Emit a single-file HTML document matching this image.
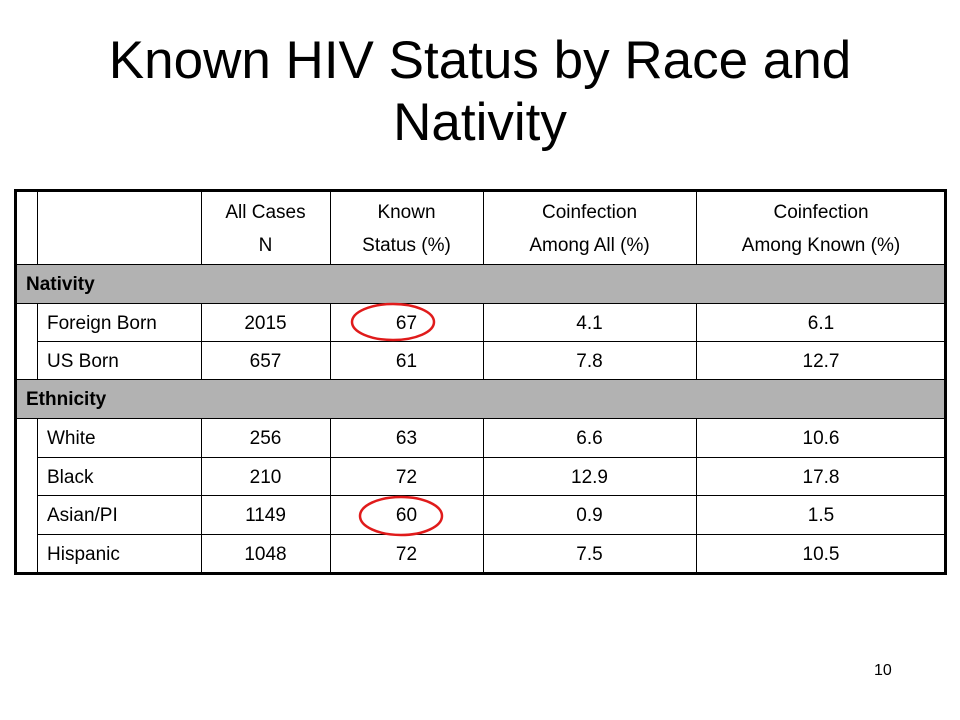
<!DOCTYPE html>
<html><head><meta charset="utf-8"><style>
body{margin:0;width:960px;height:720px;background:#fff;position:relative;overflow:hidden;font-family:"Liberation Sans",sans-serif;color:#000}
.t{position:absolute;left:0;width:960px;text-align:center;font-size:53px;line-height:62px}
.c{position:absolute;display:flex;align-items:center;justify-content:center;font-size:19px;box-sizing:border-box;padding-top:3px}
.c.lab{justify-content:flex-start;padding-left:10px}
.l{position:absolute;background:#000}
.g{position:absolute;left:15px;width:931px;height:38px;background:#b2b2b2;font-weight:bold;font-size:19px;line-height:40px;padding-left:11px;box-sizing:border-box}
.h{position:absolute;text-align:center;font-size:19px;line-height:33px}
</style></head><body>
<div class="t" style="top:30px">Known HIV Status by Race and<br>Nativity</div>

<div>
<div class="g" style="top:265px">Nativity</div>
<div class="g" style="top:380px">Ethnicity</div>

<div class="h" style="left:201px;width:129px;top:196px">All Cases<br>N</div>
<div class="h" style="left:330px;width:153px;top:196px">Known<br>Status (%)</div>
<div class="h" style="left:483px;width:213px;top:196px">Coinfection<br>Among All (%)</div>
<div class="h" style="left:696px;width:250px;top:196px">Coinfection<br>Among Known (%)</div>

<div id="rows"></div>

<div class="l" style="left:14px;top:189px;width:933px;height:3px"></div>
<div class="l" style="left:15px;top:264px;width:931px;height:1px"></div>
<div class="l" style="left:15px;top:303px;width:931px;height:1px"></div>
<div class="l" style="left:37px;top:341px;width:909px;height:1px"></div>
<div class="l" style="left:15px;top:379px;width:931px;height:1px"></div>
<div class="l" style="left:15px;top:418px;width:931px;height:1px"></div>
<div class="l" style="left:37px;top:457px;width:909px;height:1px"></div>
<div class="l" style="left:37px;top:495px;width:909px;height:1px"></div>
<div class="l" style="left:37px;top:534px;width:909px;height:1px"></div>
<div class="l" style="left:14px;top:572px;width:933px;height:3px"></div>
<div class="l" style="left:14px;top:190px;width:3px;height:384px"></div>
<div class="l" style="left:944px;top:190px;width:3px;height:384px"></div>
<div class="l" style="left:37px;top:190px;width:1px;height:75px"></div>
<div class="l" style="left:37px;top:303px;width:1px;height:77px"></div>
<div class="l" style="left:37px;top:418px;width:1px;height:156px"></div>
</div>

<svg width="960" height="720" style="position:absolute;left:0;top:0">
<ellipse cx="393" cy="322" rx="41" ry="18" fill="none" stroke="#e01b1b" stroke-width="2.5"/>
<ellipse cx="401" cy="516" rx="41" ry="19" fill="none" stroke="#e01b1b" stroke-width="2.5"/>
</svg>

<div style="position:absolute;left:874px;top:662px;font-size:16px">10</div>

<script>
const labels=["Foreign Born","US Born","White","Black","Asian/PI","Hispanic"];
const allCases=["2015","657","256","210","1149","1048"];
const known=["67","61","63","72","60","72"];
const coAll=["4.1","7.8","6.6","12.9","0.9","7.5"];
const coKnown=["6.1","12.7","10.6","17.8","1.5","10.5"];
const tops=[303,341,418,457,495,534];
const cols=[[37,201],[201,330],[330,483],[483,696],[696,946]];
const host=document.getElementById('rows');
for(let i=0;i<labels.length;i++){
  const vals=[labels[i],allCases[i],known[i],coAll[i],coKnown[i]];
  for(let j=0;j<5;j++){
    const d=document.createElement('div');
    d.className=j===0?'c lab':'c';
    d.style.left=cols[j][0]+'px';
    d.style.width=(cols[j][1]-cols[j][0])+'px';
    d.style.top=tops[i]+'px';
    d.style.height='38px';
    d.textContent=vals[j];
    
    
    host.appendChild(d);
  }
}
const vx=[201,330,483,696];
for(const x of vx){
  for(const [a,b] of [[190,265],[303,380],[418,574]]){
    const v=document.createElement('div');
    v.className='l';
    v.style.cssText='left:'+x+'px;top:'+a+'px;width:1px;height:'+(b-a)+'px';
    
    
    host.appendChild(v);
  }
}
</script>
</body></html>
